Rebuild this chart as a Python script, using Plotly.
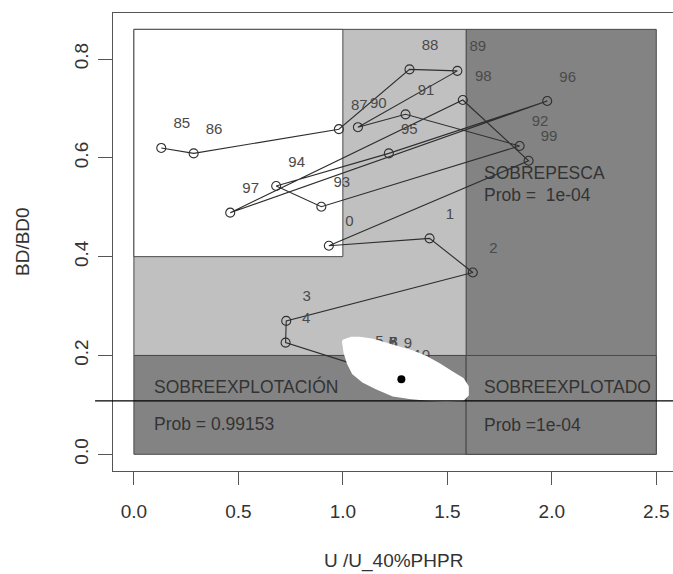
import plotly.graph_objects as go

# Stock trajectory: fishing mortality ratio (U/U_40%PHPR) against depletion (BD/BD0)
year_labels = ["85", "86", "87", "88", "89", "90", "91", "92", "93", "94",
               "95", "96", "97", "98", "99", "0", "1", "2", "3", "4",
               "5", "6", "7", "8", "9", "10"]
u_ratio = [0.131, 0.286, 0.981, 1.319, 1.548, 1.072, 1.300, 1.846, 0.897, 0.681,
           1.220, 1.978, 0.461, 1.574, 1.889, 0.933, 1.415, 1.622, 0.729, 0.726,
           1.077, 1.140, 1.142, 1.145, 1.213, 1.280]
bd_ratio = [0.620, 0.609, 0.658, 0.779, 0.776, 0.662, 0.688, 0.624, 0.501, 0.543,
            0.609, 0.715, 0.489, 0.717, 0.594, 0.422, 0.437, 0.368, 0.270, 0.226,
            0.179, 0.178, 0.177, 0.177, 0.175, 0.152]

# Outline of the uncertainty cloud around the last estimate
cloud_u = [1.000, 1.040, 1.080, 1.144, 1.208, 1.272, 1.335, 1.399, 1.463, 1.527,
           1.574, 1.598, 1.598, 1.574, 1.495, 1.415, 1.319, 1.240, 1.160, 1.096,
           1.048, 1.024, 1.008]
cloud_b = [0.230, 0.236, 0.236, 0.232, 0.224, 0.216, 0.208, 0.197, 0.182, 0.165,
           0.153, 0.137, 0.120, 0.110, 0.109, 0.110, 0.114, 0.119, 0.1335, 0.147,
           0.164, 0.184, 0.206]

# Reference points and zone limits
u_limit = 1.59
u_target = 1.0
bd_limit = 0.2
bd_target = 0.4
bd_top = 0.86
u_max = 2.5
bd_line = 0.108

x_ticks = [0.0, 0.5, 1.0, 1.5, 2.0, 2.5]
x_tick_text = ["0.0", "0.5", "1.0", "1.5", "2.0", "2.5"]
y_ticks = [0.0, 0.2, 0.4, 0.6, 0.8]
y_tick_text = ["0.0", "0.2", "0.4", "0.6", "0.8"]

zone_texts = [
    ("SOBREPESCA", 1.667, 0.569),
    ("Prob =  1e-04", 1.667, 0.525),
    ("SOBREEXPLOTACIÓN", 0.088, 0.137),
    ("Prob = 0.99153", 0.088, 0.062),
    ("SOBREEXPLOTADO", 1.667, 0.137),
    ("Prob =1e-04", 1.667, 0.060),
]

LIGHT = "#c0c0c0"
DARK = "#838383"
EDGE = "#4a4a4a"
FONT = "Liberation Sans, Arial, sans-serif"

fig = go.Figure()

# Zone rectangles
zones = [
    (u_limit, 0, u_max, bd_top, DARK),
    (0, bd_limit, u_limit, bd_top, LIGHT),
    (0, bd_target, u_target, bd_top, "white"),
    (0, 0, u_limit, bd_limit, DARK),
    (u_limit, 0, u_max, bd_limit, DARK),
]
for x0, y0, x1, y1, col in zones:
    fig.add_shape(type="rect", xref="x", yref="y", x0=x0, y0=y0, x1=x1, y1=y1,
                  fillcolor=col, line=dict(color=EDGE, width=1), layer="below")

# Trajectory
fig.add_trace(go.Scatter(
    x=u_ratio, y=bd_ratio, mode="lines+markers",
    line=dict(color="#2e2e2e", width=1.1),
    marker=dict(symbol="circle-open", size=9, color="#2e2e2e", line=dict(width=1.1)),
    hoverinfo="skip", showlegend=False,
))

# Year labels, shifted up and right of each point
fig.add_trace(go.Scatter(
    x=[u + 0.098 for u in u_ratio], y=[b + 0.047 for b in bd_ratio],
    mode="text", text=year_labels,
    textfont=dict(family=FONT, size=15, color="#4a4a4a"),
    hoverinfo="skip", showlegend=False,
))

# Uncertainty cloud
fig.add_trace(go.Scatter(
    x=cloud_u + cloud_u[:1], y=cloud_b + cloud_b[:1], mode="lines",
    fill="toself", fillcolor="white", line=dict(color="white", width=2),
    hoverinfo="skip", showlegend=False,
))

# Last estimate
fig.add_trace(go.Scatter(
    x=u_ratio[-1:], y=bd_ratio[-1:], mode="markers",
    marker=dict(symbol="circle", size=8, color="black"),
    hoverinfo="skip", showlegend=False,
))

# Horizontal reference line
fig.add_shape(type="line", xref="paper", yref="y", x0=-0.032, x1=1.0,
              y0=bd_line, y1=bd_line, line=dict(color="black", width=1.2),
              layer="above")

for txt, xx, yy in zone_texts:
    fig.add_annotation(x=xx, y=yy, xref="x", yref="y", text=txt, showarrow=False,
                       xanchor="left", yanchor="middle",
                       font=dict(family=FONT, size=17.5, color="#333333"))

# Axis titles
fig.add_annotation(x=0.5, y=(471 - 561) / 458, xref="paper", yref="paper",
                   text="U /U_40%PHPR", showarrow=False, xanchor="center",
                   yanchor="middle", font=dict(family=FONT, size=19, color="#333333"))
fig.add_annotation(x=(22 - 113) / 560, y=0.5, xref="paper", yref="paper",
                   text="BD/BD0", showarrow=False, textangle=-90, xanchor="center",
                   yanchor="middle", font=dict(family=FONT, size=19, color="#333333"))

fig.update_layout(
    width=673, height=574, autosize=False,
    margin=dict(l=113, r=0, t=13, b=103),
    plot_bgcolor="white", paper_bgcolor="white",
    showlegend=False,
    xaxis=dict(range=[-0.1, 2.580], tickvals=x_ticks, ticktext=x_tick_text,
               ticks="outside", ticklen=13, tickcolor="#555555",
               showline=True, mirror=True, linecolor="#555555", linewidth=1,
               showgrid=False, zeroline=False, ticklabelstandoff=10,
               tickfont=dict(family=FONT, size=19, color="#333333")),
    yaxis=dict(range=[-0.0338, 0.8931], tickvals=y_ticks, ticktext=y_tick_text,
               ticks="outside", ticklen=14, tickcolor="#555555", tickangle=-90,
               showline=True, mirror=False, linecolor="#555555", linewidth=1,
               showgrid=False, zeroline=False, ticklabelstandoff=2,
               tickfont=dict(family=FONT, size=19, color="#333333")),
)

fig.write_html("out.html")
